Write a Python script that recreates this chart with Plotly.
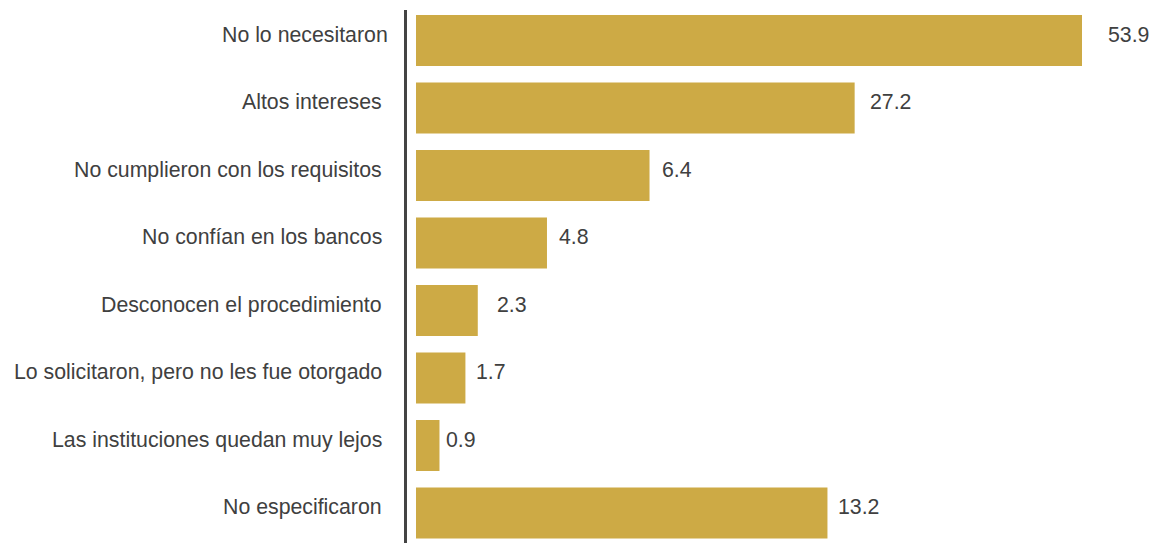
import plotly.graph_objects as go

# Categories (top to bottom)
categories = [
    "No lo necesitaron",
    "Altos intereses",
    "No cumplieron con los requisitos",
    "No confían en los bancos",
    "Desconocen el procedimiento",
    "Lo solicitaron, pero no les fue otorgado",
    "Las instituciones quedan muy lejos",
    "No especificaron",
]
# Values printed next to the bars
values = [53.9, 27.2, 6.4, 4.8, 2.3, 1.7, 0.9, 13.2]
# Bar extents as drawn in the picture (same units as the top bar's value)
bar_lengths = [53.9, 35.5, 18.9, 10.6, 5.0, 4.0, 1.9, 33.3]

# label spacing (layout only)
label_gap_px = [24, 13, 10, 10.5, 17, 8.5, 5, 9]

FONT = "Liberation Sans, Arial, sans-serif"
FS = 21.3
TXT = "#404040"
BAR = "#CDAA45"
TEXT_LIFT = 6

ticktext = [categories[0]] + [c + "\u00a0" for c in categories[1:]]

fig = go.Figure()
fig.add_trace(go.Bar(
    y=categories,
    x=bar_lengths,
    orientation="h",
    marker=dict(color=BAR, line=dict(width=0)),
    hoverinfo="skip",
))

for cat, v, L, g in zip(categories, values, bar_lengths, label_gap_px):
    fig.add_annotation(
        x=L, y=cat, xref="x", yref="y",
        text=f"{v:.1f}", showarrow=False,
        xanchor="left", yanchor="middle", xshift=g, yshift=TEXT_LIFT,
        font=dict(family=FONT, size=FS, color=TXT),
    )

# category labels, placed on the category axis
for cat, tt in zip(categories, ticktext):
    fig.add_annotation(
        x=0, y=cat, xref="paper", yref="y",
        text=tt, showarrow=False,
        xanchor="right", yanchor="middle", xshift=-17, yshift=TEXT_LIFT,
        font=dict(family=FONT, size=FS, color=TXT),
    )

px_per_unit = 666 / 53.9
fig.update_layout(
    width=1150, height=543,
    margin=dict(l=407, r=0, t=10, b=0),
    paper_bgcolor="white", plot_bgcolor="white",
    bargap=0.245,
    showlegend=False,
    font=dict(family=FONT, size=FS, color=TXT),
    xaxis=dict(
        range=[-9 / px_per_unit, -9 / px_per_unit + 743 / px_per_unit],
        visible=False, showgrid=False, zeroline=False,
    ),
    yaxis=dict(
        type="category",
        categoryorder="array", categoryarray=categories,
        range=[7.444, -0.452],
        showline=True, linecolor="#444444", linewidth=3,
        ticks="", showgrid=False, zeroline=False,
        showticklabels=False,
    ),
)

fig.write_html("out.html")
